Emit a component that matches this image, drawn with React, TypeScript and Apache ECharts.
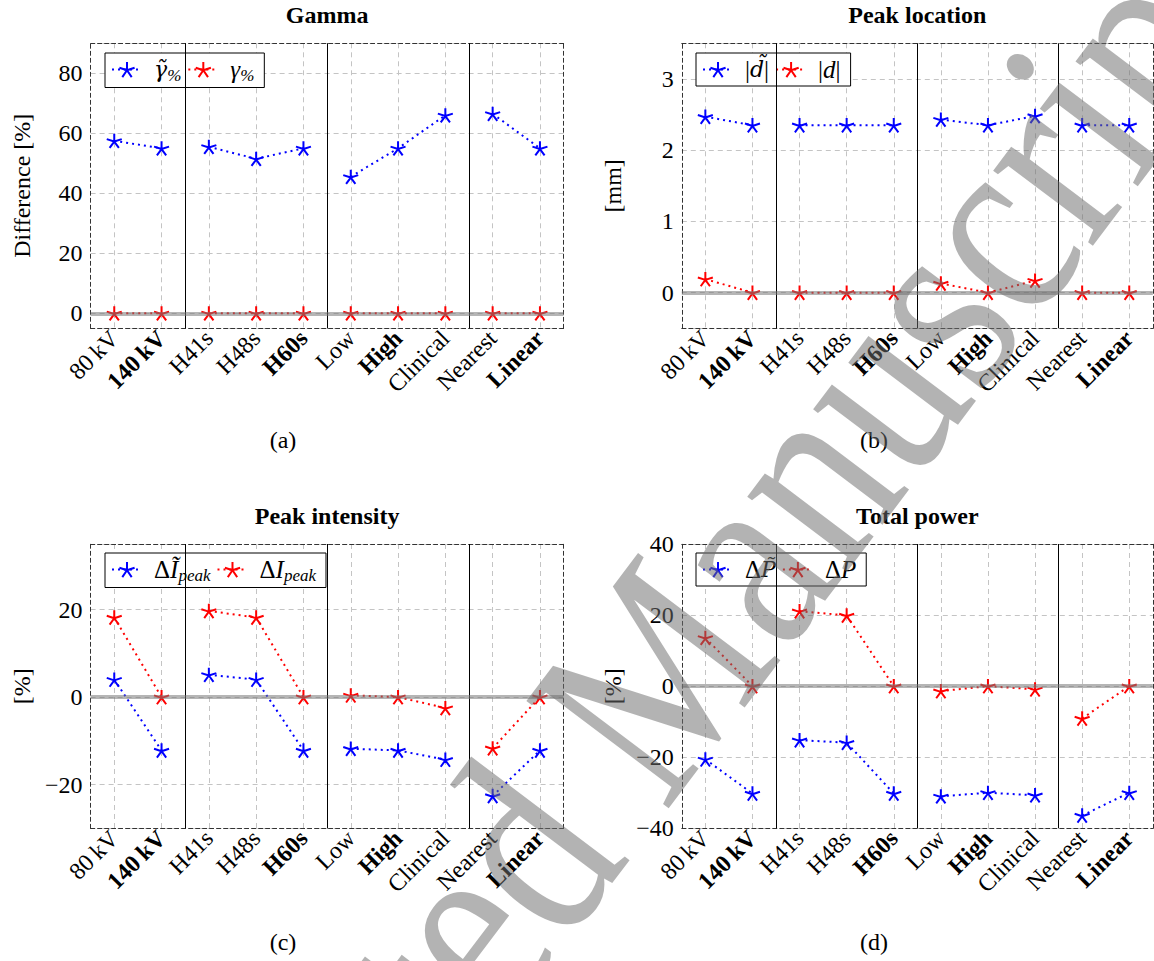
import React, { useEffect, useRef } from 'react';
import * as echarts from 'echarts';

// ---------- data ----------
const categories = ['80\u2009kV', '140\u2009kV', 'H41s', 'H48s', 'H60s', 'Low', 'High', 'Clinical', 'Nearest', 'Linear'];
const boldCategories = ['140\u2009kV', 'H60s', 'High', 'Linear'];
const groupEnds = [1, 4, 7]; // last index of each group (except the last group)

const gammaTilde = [57.5, 55, 55.5, 51.5, 55, 45.5, 55, 66, 66.5, 55];
const gammaPlain = [0, 0, 0, 0, 0, 0, 0, 0, 0, 0];
const locTilde = [2.47, 2.35, 2.35, 2.35, 2.35, 2.43, 2.35, 2.48, 2.35, 2.35];
const locPlain = [0.19, 0, 0, 0, 0, 0.13, 0, 0.17, 0, 0];
const intTilde = [4, -12.2, 5.1, 4, -12.2, -11.8, -12.2, -14.3, -22.6, -12.2];
const intPlain = [18.2, 0, 19.7, 18.2, 0, 0.4, 0, -2.5, -11.7, 0];
const powTilde = [-20.6, -30.2, -15.2, -15.9, -30.2, -31.0, -30.0, -30.7, -36.4, -30.0];
const powPlain = [13.6, 0, 21.1, 19.9, 0, -1.4, 0, -0.9, -9.1, 0];

const titles = ['Gamma', 'Peak location', 'Peak intensity', 'Total power'];
const captions = ['(a)', '(b)', '(c)', '(d)'];
const yNames = ['Difference [%]', '[mm]', '[%]', '[%]'];
const yMin = [-5, -0.5, -30, -40];
const yMax = [90, 3.5, 35, 40];
const yStep = [20, 1, 20, 20];
const blueNames = ['γ̃%', '|d̃|', 'ΔĨpeak', 'ΔP̃'];
const redNames = ['γ%', '|d|', 'ΔIpeak', 'ΔP'];
const blueValues = [gammaTilde, locTilde, intTilde, powTilde];
const redValues = [gammaPlain, locPlain, intPlain, powPlain];

// ---------- styling / layout ----------
const SERIF = '"Liberation Serif", "Times New Roman", serif';
const DSERIF = '"DejaVu Serif", serif';
const BLUE = '#0000ff';
const RED = '#ff0000';
const STAR = 'path://M0,0L0,-10M0,0L9.51,-3.09M0,0L5.88,8.09M0,0L-5.88,8.09M0,0L-9.51,-3.09';
const BORDER = { color: '#333', width: 1, type: [4, 3] as number[] };
const GRIDLINE = { color: '#c4c4c4', width: 1, type: [5, 4] as number[] };

const layouts = [
  { left: 90.6, top: 43.3, width: 473, height: 285, legendLeft: 105, legendTop: 53, cap: [283, 440] },
  { left: 681.8, top: 43.3, width: 471, height: 285, legendLeft: 696, legendTop: 53, cap: [874, 440] },
  { left: 90.6, top: 544, width: 473, height: 284.3, legendLeft: 105, legendTop: 553, cap: [283, 942] },
  { left: 681.8, top: 544, width: 471, height: 284.3, legendLeft: 696, legendTop: 553, cap: [874, 942] },
];

const legendText: Record<string, string> = {
  'γ̃%': '{g|}{t|γ\u0303}{s|%}',
  'γ%': '{g|}{m|γ}{s|%}',
  '|d̃|': '{g|}{r|\u007C}{t|d\u0303}{r|\u007C}',
  '|d|': '{g|}{r|\u007C}{m|d}{r|\u007C}',
  'ΔĨpeak': '{g|}{r|Δ}{m|Ĩ}{s|peak}',
  'ΔIpeak': '{g|}{r|Δ}{m|I}{s|peak}',
  'ΔP̃': '{g|}{r|Δ}{t|P\u0303}',
  'ΔP': '{g|}{r|Δ}{m|P}',
};

const legendRich = {
  g: { width: 7 },
  m: { fontFamily: SERIF, fontSize: 25, fontStyle: 'italic', color: '#000', lineHeight: 28 },
  t: { fontFamily: DSERIF, fontSize: 22, fontStyle: 'italic', color: '#000', lineHeight: 28 },
  r: { fontFamily: SERIF, fontSize: 25, color: '#000', lineHeight: 28 },
  s: { fontFamily: SERIF, fontSize: 17, fontStyle: 'italic', color: '#000', verticalAlign: 'bottom', lineHeight: 14 },
};

function withGaps(vals: number[]) {
  const out: any[] = [];
  vals.forEach((v, i) => {
    out.push([i, v]);
    if (groupEnds.includes(i)) out.push([i + 0.5, '-']);
  });
  return out;
}

function fmtNum(v: number, step: number) {
  const r = v / step;
  if (Math.abs(r - Math.round(r)) > 1e-9) return '';
  return v < 0 ? '\u2212' + Math.abs(v) : String(v);
}

function buildOption() {
  const grid: any[] = [];
  const xAxis: any[] = [];
  const yAxis: any[] = [];
  const series: any[] = [];
  const legend: any[] = [];
  const title: any[] = [];
  const graphic: any[] = [];

  layouts.forEach((L, p) => {
    grid.push({ left: L.left, top: L.top, width: L.width, height: L.height, containLabel: false });
    title.push({
      text: titles[p],
      left: L.left + L.width / 2,
      top: L.top - 40,
      textAlign: 'center',
      padding: 0,
      textStyle: { fontFamily: SERIF, fontSize: 24, fontWeight: 'bold', color: '#000' },
    });
    // category axis (labels + vertical grid lines)
    xAxis.push({
      type: 'category',
      gridIndex: p,
      data: categories,
      position: 'bottom',
      boundaryGap: true,
      axisLine: { show: true, onZero: false, lineStyle: BORDER },
      axisTick: { show: false },
      axisLabel: {
        interval: 0,
        rotate: 45,
        margin: 6,
        color: '#000',
        fontFamily: SERIF,
        fontSize: 24,
        formatter: (v: string) => (boldCategories.includes(v) ? `{b|${v}}` : `{n|${v}}`),
        rich: {
          b: { fontFamily: SERIF, fontSize: 24, fontWeight: 'bold', color: '#000' },
          n: { fontFamily: SERIF, fontSize: 24, color: '#000' },
        },
      },
      splitLine: { show: true, interval: 0, alignWithLabel: true, lineStyle: GRIDLINE },
    });
    // numeric x axis carrying the data (also draws the top border)
    xAxis.push({
      type: 'value',
      gridIndex: p,
      min: -0.5,
      max: categories.length - 0.5,
      position: 'top',
      axisLine: { show: true, onZero: false, lineStyle: BORDER },
      axisTick: { show: false },
      axisLabel: { show: false },
      splitLine: { show: false },
    });
    yAxis.push({
      type: 'value',
      gridIndex: p,
      min: yMin[p],
      max: yMax[p],
      minInterval: yStep[p],
      maxInterval: yStep[p],
      position: 'left',
      name: yNames[p],
      nameLocation: 'middle',
      nameGap: 57,
      nameRotate: 90,
      nameTextStyle: { fontFamily: SERIF, fontSize: 24, color: '#000' },
      axisLine: { show: true, onZero: false, lineStyle: BORDER },
      axisTick: { show: false },
      axisLabel: {
        color: '#000',
        fontFamily: SERIF,
        fontSize: 24,
        margin: 8,
        formatter: (v: number) => fmtNum(v, yStep[p]),
      },
      splitLine: { show: true, lineStyle: GRIDLINE },
    });
    yAxis.push({
      type: 'value',
      gridIndex: p,
      min: yMin[p],
      max: yMax[p],
      position: 'right',
      axisLine: { show: true, onZero: false, lineStyle: BORDER },
      axisTick: { show: false },
      axisLabel: { show: false },
      splitLine: { show: false },
    });

    const mk = (name: string, vals: number[], color: string, marks: boolean) => ({
      type: 'line',
      name,
      xAxisIndex: 2 * p + 1,
      yAxisIndex: 2 * p,
      data: withGaps(vals),
      connectNulls: false,
      symbol: STAR,
      symbolSize: 15,
      symbolKeepAspect: true,
      lineStyle: { color, width: 2, type: [2, 4] },
      itemStyle: { color, borderColor: color, borderWidth: 2 },
      emphasis: { disabled: true },
      z: 3,
      markLine: marks
        ? {
            silent: true,
            symbol: ['none', 'none'],
            label: { show: false },
            emphasis: { disabled: true },
            data: [
              ...groupEnds.map((g) => ({ xAxis: g + 0.5, lineStyle: { color: '#000', width: 1, type: 'solid' } })),
              { yAxis: 0, lineStyle: { color: 'rgba(120,120,120,0.55)', width: 4, type: 'solid' } },
            ],
          }
        : undefined,
    });
    series.push(mk(blueNames[p], blueValues[p], BLUE, false));
    series.push(mk(redNames[p], redValues[p], RED, true));

    legend.push({
      data: [blueNames[p], redNames[p]],
      left: L.legendLeft,
      top: L.legendTop,
      orient: 'horizontal',
      selectedMode: false,
      itemWidth: 30,
      itemHeight: 19,
      itemGap: 6,
      padding: [4, 10, 4, 6],
      borderColor: '#000',
      borderWidth: 1,
      borderRadius: 0,
      backgroundColor: '#fff',
      formatter: (name: string) => legendText[name] ?? name,
      textStyle: { fontFamily: SERIF, fontSize: 24, color: '#000', rich: legendRich },
    });

    graphic.push({
      type: 'text',
      x: L.cap[0],
      y: L.cap[1],
      silent: true,
      style: {
        text: captions[p],
        fontFamily: SERIF,
        fontSize: 24,
        fill: '#000',
        align: 'center',
        verticalAlign: 'middle',
      },
    });
  });

  // diagonal watermark across the figure
  graphic.push({
    type: 'text',
    x: 627,
    y: 711,
    rotation: 0.925,
    scaleX: 0.82,
    z: 100,
    silent: true,
    style: {
      text: 'Accepted Manuscript',
      fontFamily: SERIF,
      fontSize: 272,
      fill: 'rgba(110,110,110,0.52)',
      align: 'center',
      verticalAlign: 'middle',
    },
  });

  return { animation: false, backgroundColor: '#fff', grid, xAxis, yAxis, series, legend, title, graphic };
}

export default function App() {
  const ref = useRef<HTMLDivElement>(null);
  useEffect(() => {
    document.body.style.margin = '0';
    const chart = echarts.init(ref.current as HTMLDivElement, null, { renderer: 'svg' });
    chart.setOption(buildOption() as any);
    return () => chart.dispose();
  }, []);
  return <div ref={ref} style={{ width: 1154, height: 961 }} />;
}
